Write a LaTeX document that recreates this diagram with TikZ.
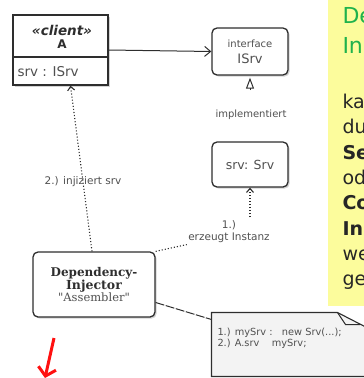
\documentclass[tikz,border=0pt]{standalone}
\usepackage{fontspec}
\setmainfont{DejaVu Sans}
\newfontfamily\injfont{DejaVu Serif}
\usetikzlibrary{arrows.meta, positioning, shadows}
\definecolor{cline}{HTML}{2E2E2E}
\definecolor{ctext}{HTML}{505050}
\definecolor{cpanel}{HTML}{FCFC9C}
\definecolor{cgreen}{HTML}{1FB24C}
\definecolor{cnote}{HTML}{F3F3F3}
\definecolor{cred}{HTML}{FF1010}
\tikzset{
  every picture/.style={line width=1pt},
  umlbox/.style={draw=cline, line width=1.3pt, fill=white, inner sep=0pt, align=center,
    drop shadow={shadow xshift=1.6pt, shadow yshift=-1.6pt, opacity=0.35}},
  rbox/.style={umlbox, rounded corners=5pt},
  lbl/.style={text=ctext, align=center, inner sep=1pt, font=\fontsize{10.5}{12}\selectfont},
  dep/.style={draw=cline, dotted, line width=1.1pt, -{Straight Barb[length=4pt, width=7pt]}},
  assoc/.style={draw=cline, -{Straight Barb[length=6pt, width=10pt]}},
  real/.style={draw=cline, -{Triangle[open, length=11pt, width=8pt]}},
  notelink/.style={draw=cline, dash pattern=on 9pt off 1.5pt},
  notebox/.style={draw=cline, fill=cnote, line width=1.1pt},
  paneltitle/.style={anchor=base west, inner sep=0pt, text=cgreen, font=\fontsize{22}{26}\selectfont},
  paneltext/.style={anchor=base west, inner sep=0pt, text=black!85, font=\fontsize{19}{23}\selectfont},
  redarrow/.style={draw=cred, line width=3pt, -{Straight Barb[length=8pt, width=18pt]}},
}

\begin{document}
\begin{tikzpicture}[x=1pt, y=-1pt]
  \useasboundingbox (0,0) rectangle (364,378);
  \clip (0,0) rectangle (364,378);

  % yellow side panel, cut off at the right border
  \fill[cpanel] (328,0) rectangle (372,306);
  \node[paneltitle] (pt1) at (342,23) {De};
  \node[paneltitle] (pt2) at (342,53) {In};
  \node[paneltext] (pl1) at (342,108) {ka};
  \node[paneltext] (pl2) at (342,133) {du};
  \node[paneltext] (pl3) at (342,159) {\bfseries Se};
  \node[paneltext] (pl4) at (342,184) {od};
  \node[paneltext] (pl5) at (342,209) {\bfseries Co};
  \node[paneltext] (pl6) at (342,235) {\bfseries In};
  \node[paneltext] (pl7) at (342,260) {we};
  \node[paneltext] (pl8) at (342,285) {ge};

  % client class
  \node[umlbox, minimum width=95pt, minimum height=70pt] (client) at (60.5,50) {};
  \coordinate (cdiv) at (0,57);
  \draw[draw=cline, line width=1.3pt] (client.west |- cdiv) -- (client.east |- cdiv);
  \node[font=\fontsize{13.5}{15}\selectfont\bfseries\itshape, text=cline] (cstereo) at (62,30) {«client»};
  \node[font=\fontsize{12}{14}\selectfont\bfseries, text=cline] (cname) at (62,44.5) {A};
  \node[anchor=west, inner sep=0pt, text=ctext, font=\fontsize{13.5}{15}\selectfont] (cattr) at (17,72) {srv : ISrv};

  % interface and implementation
  \node[rbox, minimum width=76pt, minimum height=47pt, text=ctext, font=\fontsize{13}{15}\selectfont] (iface) at (250,51.5)
    {{\fontsize{10}{12}\selectfont interface}\\[1pt] ISrv};
  \node[rbox, minimum width=76pt, minimum height=45pt, text=ctext, font=\fontsize{12.5}{15}\selectfont] (srv) at (250,164.5) {srv: Srv};
  \node[lbl, font=\fontsize{10}{12}\selectfont] (impl) at (251,115) {implementiert};
  \coordinate (realbase) at (250,90);
  \draw[real, shorten >=2pt] (realbase) -- (iface.south);
  \draw[assoc] (client.east) -- (iface.west);

  % injector
  \node[rbox, minimum width=122pt, minimum height=65pt, text=cline] (inj) at (94,284.5)
    {{\injfont\bfseries\fontsize{12}{15}\selectfont Dependency-}\\
     {\injfont\bfseries\fontsize{12.5}{15}\selectfont Injector}\\
     {\injfont\fontsize{11.5}{15}\selectfont\color{ctext}"Assembler"}};

  \node[lbl] (erz) at (229,232) {1.)\\erzeugt Instanz};
  \draw[dep, shorten <=2pt] (erz.north -| srv.south) -- (srv.south);
  \draw[dep, -] (inj.north east) -- (erz.south west);
  \draw[dep] ([xshift=-2pt]inj.north) -- node[lbl, pos=0.42] (injlbl) {2.) injiziert srv} ([xshift=10pt]client.south);

  % note with folded corner
  \node[inner sep=0pt, minimum width=160pt, minimum height=63pt] (note) at (292,344.5) {};
  \filldraw[notebox] (note.north west) -- ++(126,0) coordinate (fold)
    -- ([yshift=-18pt]note.north east) -- (note.south east) -- (note.south west) -- cycle;
  \draw[draw=cline, line width=1pt] (fold) -- ++(8,12) -- ++(14.7,0);
  \node[anchor=north west, inner sep=0pt, align=left, text=ctext, font=\fontsize{9.8}{10.5}\selectfont] (ntext) at (217,328)
    {1.) mySrv :\ \ \ new Srv(...);\\2.) A.srv\ \ \ \ mySrv;};
  \draw[notelink] ([yshift=-18pt]inj.east) -- ([yshift=-7pt]note.north west);

  % red marker arrow
  \coordinate (rtail) at (54,338);
  \coordinate (rtip) at (45,378);
  \draw[redarrow] (rtail) -- (rtip);
\end{tikzpicture}
\end{document}
